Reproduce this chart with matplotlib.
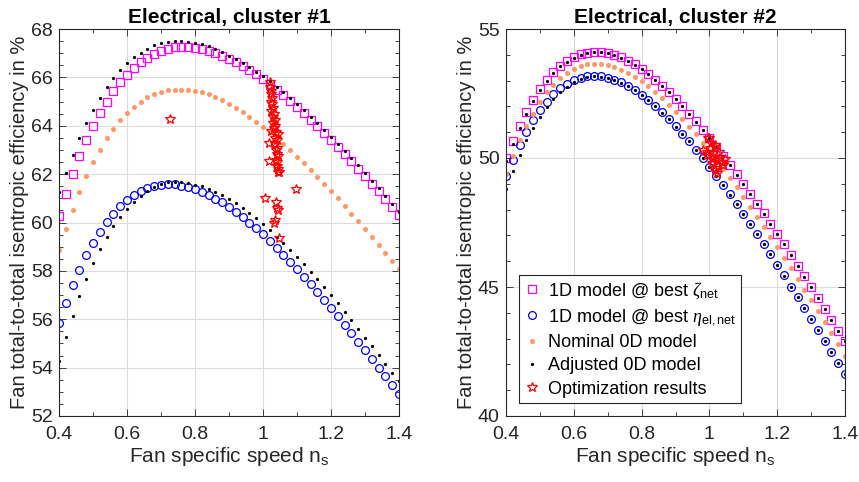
import numpy as np
import matplotlib
matplotlib.use("Agg")
import matplotlib.pyplot as plt
from matplotlib.ticker import MultipleLocator, FuncFormatter

plt.rcParams['font.family'] = ['Liberation Sans', 'DejaVu Sans']
plt.rcParams['mathtext.fontset'] = 'custom'
plt.rcParams['mathtext.rm'] = 'Liberation Sans'
plt.rcParams['mathtext.it'] = 'Liberation Serif:italic'

# fan specific speed grid
ns = np.linspace(0.4, 1.4, 51)

# ---- cluster #1 ----
c1_zeta = [60.28, 61.19, 62.0, 62.75, 63.4, 64.0, 64.52, 65.0, 65.44, 65.8,
           66.11, 66.39, 66.62, 66.81, 66.98, 67.09, 67.19, 67.24, 67.26, 67.26,
           67.23, 67.17, 67.1, 67.0, 66.9, 66.77, 66.62, 66.47, 66.29, 66.12,
           65.93, 65.71, 65.49, 65.26, 65.01, 64.76, 64.51, 64.25, 63.98, 63.71,
           63.42, 63.12, 62.83, 62.53, 62.23, 61.92, 61.6, 61.29, 60.98, 60.65,
           60.32]
c1_zeta_adj = [61.25, 62.06, 62.8, 63.51, 64.11, 64.66, 65.15, 65.59, 65.97, 66.3,
               66.59, 66.83, 67.02, 67.19, 67.33, 67.42, 67.48, 67.5, 67.5, 67.46,
               67.42, 67.37, 67.28, 67.16, 67.03, 66.9, 66.76, 66.59, 66.43, 66.23,
               66.04, 65.84, 65.62, 65.39, 65.14, 64.89, 64.64, 64.38, 64.11, 63.84,
               63.55, 63.25, 62.96, 62.66, 62.36, 62.05, 61.73, 61.42, 61.11, 60.78,
               60.45]
c1_nominal = [58.88, 59.73, 60.53, 61.26, 61.91, 62.49, 63.01, 63.48, 63.88, 64.24,
              64.54, 64.79, 65.0, 65.18, 65.3, 65.41, 65.47, 65.49, 65.49, 65.48,
              65.45, 65.4, 65.3, 65.18, 65.05, 64.9, 64.73, 64.55, 64.36, 64.16,
              63.96, 63.73, 63.49, 63.25, 63.0, 62.72, 62.46, 62.18, 61.9, 61.59,
              61.3, 61.0, 60.68, 60.36, 60.05, 59.73, 59.4, 59.08, 58.75, 58.42,
              58.07]
c1_eta = [55.86, 56.67, 57.4, 58.05, 58.64, 59.15, 59.62, 60.04, 60.37, 60.67,
          60.92, 61.13, 61.3, 61.44, 61.52, 61.56, 61.58, 61.58, 61.52, 61.47,
          61.37, 61.28, 61.14, 60.99, 60.83, 60.65, 60.45, 60.24, 60.0, 59.76,
          59.51, 59.24, 58.96, 58.67, 58.38, 58.07, 57.76, 57.45, 57.13, 56.8,
          56.47, 56.12, 55.76, 55.42, 55.07, 54.72, 54.36, 54.0, 53.64, 53.28,
          52.91]
c1_eta_adj = [54.28, 55.25, 56.14, 56.95, 57.68, 58.33, 58.91, 59.4, 59.86, 60.24,
              60.57, 60.86, 61.11, 61.32, 61.48, 61.59, 61.66, 61.67, 61.66, 61.62,
              61.56, 61.5, 61.4, 61.28, 61.14, 60.98, 60.81, 60.62, 60.4, 60.17,
              59.94, 59.68, 59.41, 59.14, 58.86, 58.57, 58.27, 57.97, 57.66, 57.33,
              57.0, 56.67, 56.31, 55.97, 55.61, 55.24, 54.88, 54.51, 54.15, 53.78,
              53.44]
c1_opt_ns = [0.726, 1.005, 1.097, 1.017, 1.018, 1.037, 1.043, 1.042, 1.032, 1.034, 1.046,
             1.022, 1.022, 1.025, 1.023, 1.026, 1.024, 1.027, 1.030, 1.025, 1.032,
             1.030, 1.034, 1.028, 1.035, 1.032, 1.038, 1.024, 1.043, 1.036, 1.040,
             1.034, 1.042, 1.037, 1.040, 1.044, 1.038, 1.042, 1.040, 1.045, 1.043,
             1.047]
c1_opt_eta = [64.28, 61.02, 61.4, 62.55, 63.3, 60.85, 60.5, 60.6, 59.98, 60.1, 59.35,
              65.8, 65.6, 65.45, 65.3, 65.15, 65.0, 64.9, 64.75, 64.6, 64.5,
              64.35, 64.25, 64.1, 64.0, 63.9, 63.75, 63.8, 63.65, 63.5, 63.4,
              63.25, 63.1, 63.0, 62.85, 62.75, 62.6, 62.5, 62.35, 62.2, 62.1,
              62.08]

# ---- cluster #2 ----
c2_zeta = [49.99, 50.66, 51.24, 51.77, 52.25, 52.66, 53.01, 53.32, 53.57, 53.75,
           53.9, 54.02, 54.08, 54.11, 54.11, 54.07, 54.0, 53.9, 53.76, 53.63,
           53.45, 53.26, 53.02, 52.8, 52.55, 52.3, 52.03, 51.72, 51.42, 51.1,
           50.78, 50.44, 50.09, 49.74, 49.37, 49.0, 48.62, 48.23, 47.85, 47.45,
           47.05, 46.66, 46.24, 45.83, 45.41, 45.0, 44.59, 44.16, 43.73, 43.31,
           42.9]
c2_zeta_adj = [49.88, 50.56, 51.16, 51.7, 52.2, 52.62, 52.98, 53.3, 53.55, 53.74,
               53.89, 54.0, 54.07, 54.1, 54.1, 54.06, 53.99, 53.89, 53.75, 53.62,
               53.44, 53.25, 53.01, 52.79, 52.54, 52.29, 52.02, 51.71, 51.41, 51.09,
               50.77, 50.43, 50.08, 49.73, 49.36, 48.99, 48.61, 48.22, 47.84, 47.44,
               47.04, 46.65, 46.23, 45.82, 45.4, 44.99, 44.58, 44.15, 43.72, 43.3,
               42.89]
c2_nominal = [49.38, 50.07, 50.69, 51.23, 51.72, 52.16, 52.55, 52.84, 53.09, 53.31,
              53.46, 53.57, 53.63, 53.66, 53.65, 53.62, 53.53, 53.42, 53.29, 53.14,
              52.97, 52.78, 52.55, 52.31, 52.07, 51.8, 51.51, 51.21, 50.92, 50.59,
              50.28, 49.95, 49.59, 49.24, 48.88, 48.5, 48.11, 47.73, 47.34, 46.95,
              46.56, 46.14, 45.72, 45.31, 44.88, 44.48, 44.07, 43.63, 43.2, 42.78,
              42.34]
c2_eta = [49.3, 49.92, 50.5, 51.02, 51.47, 51.85, 52.18, 52.49, 52.7, 52.88,
          53.01, 53.1, 53.17, 53.19, 53.17, 53.11, 53.04, 52.93, 52.79, 52.64,
          52.46, 52.24, 52.02, 51.77, 51.51, 51.23, 50.94, 50.65, 50.32, 50.0,
          49.66, 49.31, 48.95, 48.59, 48.22, 47.83, 47.44, 47.05, 46.67, 46.27,
          45.86, 45.45, 45.01, 44.62, 44.2, 43.77, 43.34, 42.91, 42.48, 42.07,
          41.63]
c2_eta_adj = [48.79, 49.5, 50.12, 50.69, 51.17, 51.6, 51.98, 52.3, 52.56, 52.76,
              52.93, 53.05, 53.13, 53.16, 53.15, 53.1, 53.03, 52.92, 52.78, 52.63,
              52.45, 52.23, 52.01, 51.76, 51.5, 51.22, 50.93, 50.64, 50.31, 49.99,
              49.65, 49.3, 48.94, 48.58, 48.21, 47.82, 47.43, 47.04, 46.66, 46.26,
              45.85, 45.44, 45.0, 44.61, 44.19, 43.76, 43.33, 42.9, 42.47, 42.06,
              41.62]
c2_opt_ns = [0.997, 0.982, 1.002, 1.017, 0.992, 1.012, 1.022, 1.036, 1.041, 1.007,
             1.017, 1.022, 1.030, 1.010, 1.004, 0.998, 1.017, 0.992, 1.036, 1.017,
             1.026, 1.045, 1.008, 1.028]
c2_opt_eta = [50.76, 50.31, 50.38, 50.44, 50.12, 50.05, 49.92, 49.86, 49.73, 49.79,
              49.6, 49.4, 50.0, 50.2, 50.57, 50.78, 50.5, 50.24, 49.86, 49.53,
              49.7, 49.95, 49.95, 50.25]

orange = '#ff9966'
dark = '#262626'


def style_axes(ax, ylim, ymajor, yminor):
    ax.set_xlim(0.4, 1.4)
    ax.set_ylim(*ylim)
    ax.xaxis.set_major_locator(MultipleLocator(0.2))
    ax.xaxis.set_minor_locator(MultipleLocator(0.1))
    ax.yaxis.set_major_locator(MultipleLocator(ymajor))
    ax.yaxis.set_minor_locator(MultipleLocator(yminor))
    ax.xaxis.set_major_formatter(FuncFormatter(lambda v, p: ('%g' % round(v, 2))))
    ax.tick_params(which='both', direction='in', top=True, right=True,
                   colors=dark, labelsize=14, width=0.6)
    ax.tick_params(which='major', length=5)
    ax.tick_params(which='minor', length=3)
    ax.tick_params(axis='x', which='major', pad=7)
    ax.tick_params(axis='y', which='major', pad=4.5)
    ax.grid(True, which='major', color='#dcdcdc', linewidth=0.8)
    ax.set_axisbelow(True)
    for s in ax.spines.values():
        s.set_color(dark)
        s.set_linewidth(0.8)
    ax.set_xlabel(r'Fan specific speed n$_{\rm s}$', fontsize=15, color=dark, labelpad=2)
    ax.set_ylabel('Fan total-to-total isentropic efficiency in %', fontsize=14.5,
                  color=dark, labelpad=1)


def draw(ax, zeta, zeta_adj, nominal, eta, eta_adj, opt_ns, opt_eta):
    ax.plot(ns, zeta, 's', ms=5.2, mfc='none', mec='#ff00ff', mew=0.9,
            label=r'1D model @ best $\zeta_{\rm net}$')
    ax.plot(ns, eta, 'o', ms=5.6, mfc='none', mec='#0000ff', mew=0.9,
            label=r'1D model @ best $\eta_{\rm el,net}$')
    ax.plot(ns, nominal, 'o', ms=2.6, color=orange, mec=orange, label='Nominal 0D model')
    ax.plot(ns, zeta_adj, 'o', ms=1.3, color='k', label='Adjusted 0D model')
    ax.plot(ns, eta_adj, 'o', ms=1.3, color='k')
    ax.plot(opt_ns, opt_eta, '*', ms=7.5, mfc='none', mec='#ff0000', mew=0.9,
            label='Optimization results')


fig = plt.figure(figsize=(8.59, 4.82), dpi=100)
ax1 = fig.add_axes([59 / 859, 66 / 482, 340 / 859, 387 / 482])
ax2 = fig.add_axes([506 / 859, 66 / 482, 339 / 859, 387 / 482])

draw(ax1, c1_zeta, c1_zeta_adj, c1_nominal, c1_eta, c1_eta_adj, c1_opt_ns, c1_opt_eta)
style_axes(ax1, (52, 68), 2, 0.5)
ax1.set_title('Electrical, cluster #1', fontsize=15, fontweight='bold', pad=4)

draw(ax2, c2_zeta, c2_zeta_adj, c2_nominal, c2_eta, c2_eta_adj, c2_opt_ns, c2_opt_eta)
style_axes(ax2, (40, 55), 5, 1)
ax2.set_title('Electrical, cluster #2', fontsize=15, fontweight='bold', pad=4)

leg = ax2.legend(loc='lower left', bbox_to_anchor=(0.012, 0.01), fontsize=13,
                 fancybox=False, framealpha=1, edgecolor=dark,
                 handlelength=0.8, handletextpad=0.5, borderpad=0.3,
                 labelspacing=0.35, markerscale=1.0)
leg.get_frame().set_linewidth(0.8)

fig.savefig('out.png', dpi=100)
